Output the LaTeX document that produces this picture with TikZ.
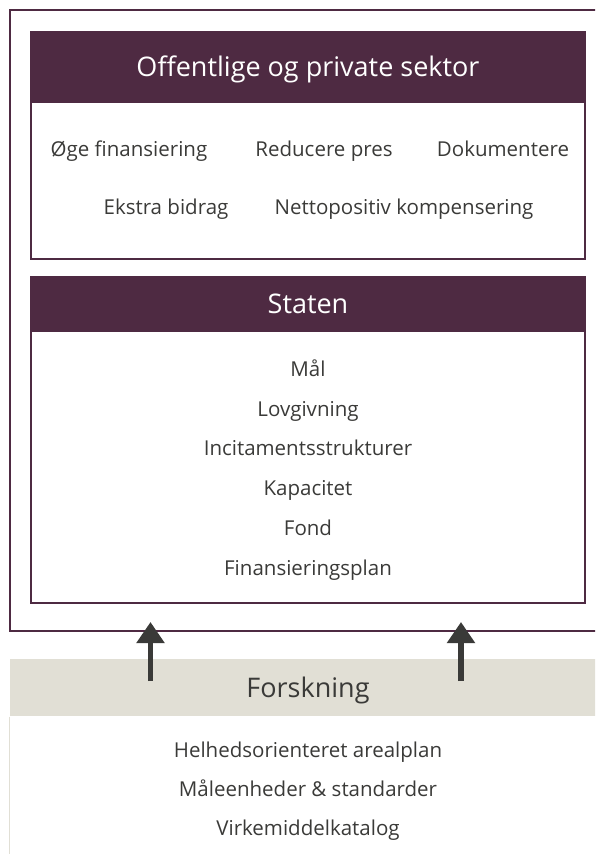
\documentclass[tikz,border=0pt]{standalone}
\usepackage{fontspec}
\setmainfont{Open Sans}
\usepackage{xcolor}
\usetikzlibrary{arrows.meta,positioning}
\definecolor{plumDark}{HTML}{4E2A42}
\definecolor{sandGray}{HTML}{E1DFD5}
\definecolor{inkGray}{HTML}{3A3A38}

\begin{document}
\begin{tikzpicture}[x=1pt,y=-1pt,
    headbox/.style={rectangle,draw=plumDark,fill=plumDark,line width=1.2pt,
                    text=white,font=\fontsize{27}{32}\selectfont,
                    text height=19pt,text depth=0pt,
                    minimum width=554pt,inner sep=0pt},
    bodybox/.style={rectangle,draw=plumDark,line width=2pt,
                    minimum width=554pt,inner sep=0pt},
    item/.style={anchor=base,font=\fontsize{20.5}{24}\selectfont,
                 text=inkGray,inner sep=0pt},
    uparrow/.style={draw=inkGray,line width=5.5pt,
                    -{Triangle[length=21pt,width=27pt]}}
  ]
  \useasboundingbox (0,0) rectangle (595,854);
  \clip (0,0) rectangle (595,854);
  % Outer frame
  \draw[plumDark,line width=2pt] (610,10) -- (10,10) -- (10,631) -- (610,631);
  % Offentlige og private sektor
  \node[bodybox,minimum height=157pt] (secbody) at (308,180.5) {};
  \node[headbox,minimum height=70pt]  (sechead) at (308,67) {Offentlige og private sektor};
  \node[item] (oege)   at (129,156) {Øge finansiering};
  \node[item] (reduc)  at (324,156) {Reducere pres};
  \node[item] (doku)   at (503,156) {Dokumentere};
  \node[item] (ekstra) at (166,214) {Ekstra bidrag};
  \node[item] (netto)  at (404,214) {Nettopositiv kompensering};
  % Staten
  \node[bodybox,minimum height=272pt] (statbody) at (308,467) {};
  \node[headbox,minimum height=54pt]  (stathead) at (308,304) {Staten};
  \node[item] (maal)  at (308,376) {Mål};
  \node[item] (lov)   at (308,416) {Lovgivning};
  \node[item] (incit) at (308,455) {Incitamentsstrukturer};
  \node[item] (kap)   at (308,495) {Kapacitet};
  \node[item] (fond)  at (308,535) {Fond};
  \node[item] (finp)  at (308,575) {Finansieringsplan};
  % Forskning
  \node[headbox,fill=sandGray,draw=none,text=inkGray,minimum width=596pt,
        minimum height=57pt] (forhead) at (308,687.5) {Forskning};
  \draw[sandGray,line width=1.5pt] (forhead.south west) -- ++(0,150);
  \node[item] (helhed) at (308,757) {Helhedsorienteret arealplan};
  \node[item] (maale)  at (308,796) {Måleenheder \& standarder};
  \node[item] (virke)  at (308,835) {Virkemiddelkatalog};
  % Arrows
  \coordinate (srcL) at (150.5,681);
  \coordinate (dstL) at (150.5,622);
  \coordinate (srcR) at (461,681);
  \coordinate (dstR) at (461,622);
  \draw[uparrow] (srcL) -- (dstL);
  \draw[uparrow] (srcR) -- (dstR);
\end{tikzpicture}
\end{document}
